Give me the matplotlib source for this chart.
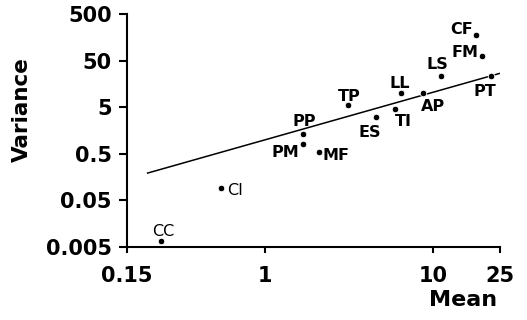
import matplotlib
matplotlib.use("Agg")
import matplotlib.pyplot as plt

# Data (log-log scatter of mean vs variance)
names = ["CC", "CI", "PP", "PM", "MF", "TP", "ES", "TI", "LL", "AP", "LS", "CF", "FM", "PT"]
means = [0.239, 0.542, 1.68, 1.68, 2.09, 3.10, 4.59, 5.90, 6.44, 8.7, 11.2, 18.1, 19.4, 22.0]
variances = [0.0067, 0.094, 1.33, 0.81, 0.54, 5.5, 3.03, 4.57, 10.1, 10.1, 23.4, 177, 62.8, 23.4]

# Regression line endpoints
line_x = [0.197, 25]
line_y = [0.191, 26.7]

xticks = [0.15, 1, 10, 25]
xticklabels = ["0.15", "1", "10", "25"]
yticks = [0.005, 0.05, 0.5, 5, 50, 500]
yticklabels = ["0.005", "0.05", "0.5", "5", "50", "500"]

# label layout: (dx px, dy px (down positive), ha, weight)
label_layout = {
    "CC": (2, -11.5, "center", "normal"),
    "CI": (6, 1, "left", "normal"),
    "PP": (0.7, -14, "center", "bold"),
    "PM": (-4, 7, "right", "bold"),
    "MF": (3, 2, "left", "bold"),
    "TP": (1, -10, "center", "bold"),
    "ES": (-6.5, 14, "center", "bold"),
    "TI": (9, 11, "center", "bold"),
    "LL": (-1.6, -11.3, "center", "bold"),
    "AP": (9.7, 12.3, "center", "bold"),
    "LS": (-4, -13, "center", "bold"),
    "CF": (-3, -7.5, "right", "bold"),
    "FM": (-3, -5, "right", "bold"),
    "PT": (-5.7, 14, "center", "bold"),
}

DPI = 100
PX = 72.0 / DPI

fig = plt.figure(figsize=(5.27, 3.2), dpi=DPI)
ax = fig.add_axes([127 / 527, 1 - 247 / 320, (500 - 127) / 527, (247 - 14) / 320])

ax.set_xscale("log")
ax.set_yscale("log")
ax.set_xlim(0.15, 25)
ax.set_ylim(0.005, 500)

ax.plot(line_x, line_y, color="black", lw=1.1, solid_capstyle="butt", zorder=2)
ax.scatter(means, variances, s=22, color="black", edgecolors="white", linewidths=0.6,
           zorder=3, clip_on=False)

for n, x, y in zip(names, means, variances):
    dx, dy, ha, wt = label_layout[n]
    ax.annotate(n, (x, y), xytext=(dx * PX, -dy * PX), textcoords="offset points",
                ha=ha, va="center_baseline", fontsize=11.5, fontweight=wt,
                color="black", annotation_clip=False)

ax.set_xticks(xticks)
ax.set_xticklabels(xticklabels)
ax.set_yticks(yticks)
ax.set_yticklabels(yticklabels)
ax.minorticks_off()

for s in ["top", "right"]:
    ax.spines[s].set_visible(False)
for s in ["left", "bottom"]:
    ax.spines[s].set_linewidth(1.5)

ax.tick_params(axis="x", direction="out", length=4.5, width=1.5, pad=9,
               labelsize=15)
ax.tick_params(axis="y", direction="out", length=6, width=1.5, pad=5,
               labelsize=15)
for lab in ax.get_xticklabels() + ax.get_yticklabels():
    lab.set_fontweight("bold")

fig.text(463 / 527, 1 - 300 / 320, "Mean", ha="center", va="center",
         fontsize=16, fontweight="bold")
fig.text(22 / 527, 1 - 110 / 320, "Variance", ha="center", va="center",
         rotation=90, fontsize=15.5, fontweight="bold")

fig.savefig("out.png", dpi=DPI)
